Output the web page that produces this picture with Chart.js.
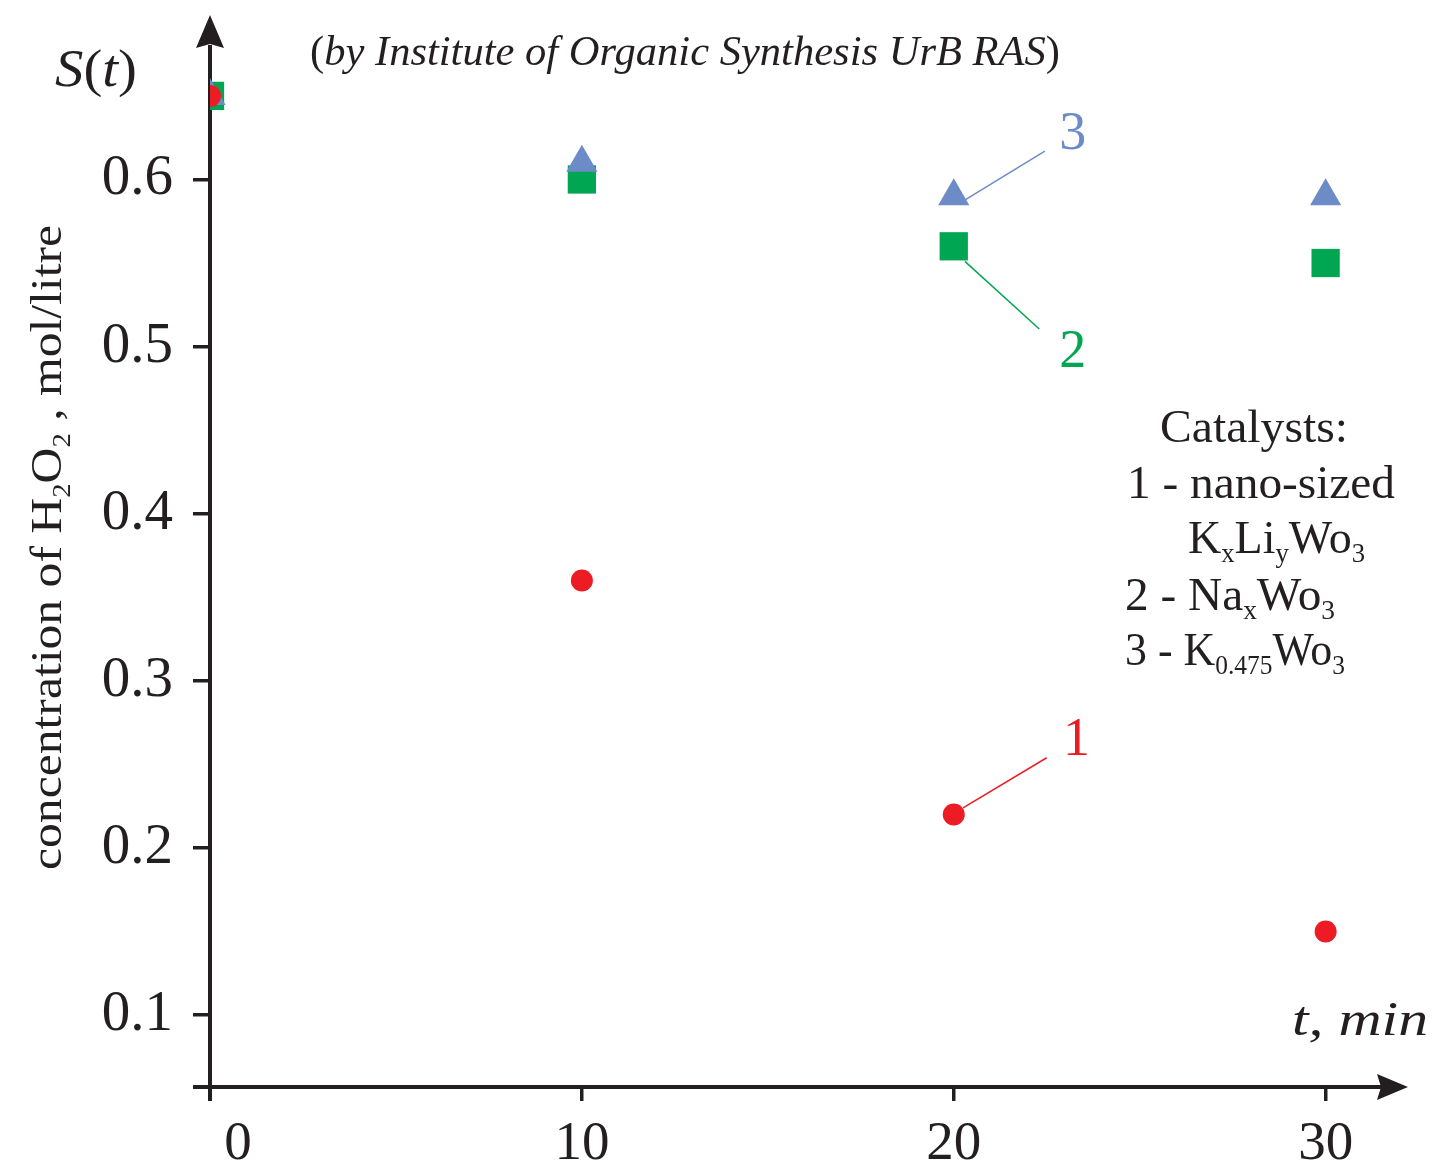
<!DOCTYPE html>
<html>
<head>
<meta charset="utf-8">
<script src="https://cdn.jsdelivr.net/npm/chart.js@4.4.1/dist/chart.umd.min.js"></script>
<style>
html, body { margin: 0; padding: 0; background: #fff; }
canvas { display: block; }
</style>
</head>
<body>
<canvas id="chart" width="1432" height="1168"></canvas>
<script>
// time, min
var times = [0, 10, 20, 30];
// H2O2 concentration, mol/litre, per catalyst
var nanoKLiWO3 = [0.65, 0.36, 0.22, 0.15];
var naWO3 = [0.65, 0.60, 0.56, 0.55];
var k0475WO3 = [0.65, 0.61, 0.59, 0.59];
var seriesNames = ['1', '2', '3'];
var xTicks = [0, 10, 20, 30];
var yTicks = [0.1, 0.2, 0.3, 0.4, 0.5, 0.6];

var INK = '#231F20';
var RED = '#ED1C24';
var GREEN = '#00A651';
var BLUE = '#6C8BC7';
var SERIF = '"Liberation Serif", "Times New Roman", serif';

function pts(ys) {
	return times.map(function(t, i) { return { x: t, y: ys[i] }; });
}

// leader lines + number labels, in data units
var callouts = [
	{ name: seriesNames[2], color: BLUE,  from: [20.25, 0.587], to: [22.45, 0.617], at: [23.2, 0.618] },
	{ name: seriesNames[1], color: GREEN, from: [20.3, 0.551],  to: [22.3, 0.5105], at: [23.2, 0.488] },
	{ name: seriesNames[0], color: RED,   from: [20.25, 0.224], to: [22.5, 0.254],  at: [23.3, 0.2557] }
];

function drawRuns(ctx, parts, x, y, size, measureOnly) {
	var cx = x;
	parts.forEach(function(p) {
		var s = p.sub ? size * 0.58 : size;
		ctx.font = (p.i ? 'italic ' : '') + s + 'px ' + SERIF;
		if (!measureOnly) ctx.fillText(p.t, cx, y + (p.sub ? size * 0.2 : 0));
		cx += ctx.measureText(p.t).width;
	});
	return cx - x;
}

// draw runs stretched to the width they take in the original figure
function fitRuns(ctx, parts, x, y, size, width) {
	var w = drawRuns(ctx, parts, 0, 0, size, true);
	ctx.save();
	ctx.translate(x, y);
	ctx.scale(width / w, 1);
	drawRuns(ctx, parts, 0, 0, size);
	ctx.restore();
}

var decorations = {
	id: 'decorations',
	beforeDatasetsDraw: function(chart) {
		var ctx = chart.ctx;
		var a = chart.chartArea;
		var x0 = chart.scales.x.getPixelForValue(0);
		var yb = a.bottom;
		ctx.save();
		ctx.strokeStyle = INK;
		ctx.fillStyle = INK;
		ctx.lineWidth = 4;
		// y axis
		ctx.beginPath();
		ctx.moveTo(x0, yb + 14);
		ctx.lineTo(x0, a.top + 25);
		ctx.stroke();
		ctx.beginPath();
		ctx.moveTo(x0, a.top - 5);
		ctx.lineTo(x0 + 14, a.top + 28);
		ctx.lineTo(x0, a.top + 24);
		ctx.lineTo(x0 - 14, a.top + 28);
		ctx.closePath();
		ctx.fill();
		// x axis
		ctx.beginPath();
		ctx.moveTo(x0 - 17, yb);
		ctx.lineTo(a.right - 15, yb);
		ctx.stroke();
		ctx.beginPath();
		ctx.moveTo(a.right + 8, yb);
		ctx.lineTo(a.right - 23, yb - 13);
		ctx.lineTo(a.right - 19, yb);
		ctx.lineTo(a.right - 23, yb + 13);
		ctx.closePath();
		ctx.fill();
		ctx.restore();
	},
	afterDraw: function(chart) {
		var ctx = chart.ctx;
		var xs = chart.scales.x, ys = chart.scales.y;
		ctx.save();
		ctx.textBaseline = 'alphabetic';

		// x tick labels
		ctx.fillStyle = INK;
		ctx.font = '55px ' + SERIF;
		ctx.textAlign = 'center';
		xTicks.forEach(function(v, i) {
			ctx.fillText(String(v), xs.getPixelForValue(v) + (i === 0 ? 28 : 0), 1159);
		});

		// callouts
		callouts.forEach(function(c) {
			ctx.strokeStyle = c.color;
			ctx.lineWidth = 1.5;
			ctx.beginPath();
			ctx.moveTo(xs.getPixelForValue(c.from[0]), ys.getPixelForValue(c.from[1]));
			ctx.lineTo(xs.getPixelForValue(c.to[0]), ys.getPixelForValue(c.to[1]));
			ctx.stroke();
			ctx.fillStyle = c.color;
			ctx.font = '54px ' + SERIF;
			ctx.textAlign = 'center';
			ctx.fillText(c.name, xs.getPixelForValue(c.at[0]), ys.getPixelForValue(c.at[1]));
		});

		ctx.textAlign = 'left';
		ctx.fillStyle = INK;

		// S(t)
		fitRuns(ctx, [{ t: 'S', i: true }, { t: '(' }, { t: 't', i: true }, { t: ')' }], 55, 86, 53, 82);
		// credit line
		fitRuns(ctx, [{ t: '(' }, { t: 'by Institute of Organic Synthesis UrB RAS', i: true }, { t: ')' }], 310, 65, 43, 750);
		// x axis title
		fitRuns(ctx, [{ t: 't, min', i: true }], 1292, 1035, 48, 136);

		// catalysts legend
		var L = 47;
		fitRuns(ctx, [{ t: 'Catalysts:' }], 1160, 442, L, 188);
		fitRuns(ctx, [{ t: '1 - nano-sized' }], 1127, 498, L, 268);
		fitRuns(ctx, [{ t: 'K' }, { t: 'x', sub: true }, { t: 'Li' }, { t: 'y', sub: true }, { t: 'Wo' }, { t: '3', sub: true }], 1188, 553, L, 177);
		fitRuns(ctx, [{ t: '2 - Na' }, { t: 'x', sub: true }, { t: 'Wo' }, { t: '3', sub: true }], 1125, 610, L, 210);
		fitRuns(ctx, [{ t: '3 - K' }, { t: '0.475', sub: true }, { t: 'Wo' }, { t: '3', sub: true }], 1125, 665, L, 220);

		// y axis title, rotated
		var title = [{ t: 'concentration of H' }, { t: '2', sub: true }, { t: 'O' }, { t: '2', sub: true }, { t: ' , mol/litre' }];
		ctx.translate(61, 548);
		ctx.rotate(-Math.PI / 2);
		fitRuns(ctx, title, -322, 0, 45, 645);
		ctx.restore();
	}
};

new Chart(document.getElementById('chart'), {
	type: 'scatter',
	data: {
		datasets: [
			{ label: seriesNames[0], data: pts(nanoKLiWO3), pointStyle: 'circle', pointRadius: 11, backgroundColor: RED, borderWidth: 0 },
			{ label: seriesNames[2], data: pts(k0475WO3), pointStyle: 'triangle', pointRadius: 18, backgroundColor: BLUE, borderWidth: 0 },
			{ label: seriesNames[1], data: pts(naWO3), pointStyle: 'rect', pointRadius: 20, backgroundColor: GREEN, borderWidth: 0 }
		]
	},
	options: {
		responsive: false,
		animation: false,
		layout: { padding: { top: 17, right: 32, left: 0, bottom: 0 } },
		plugins: { legend: { display: false }, tooltip: { enabled: false } },
		scales: {
			x: {
				type: 'linear',
				min: 0,
				max: 32,
				afterBuildTicks: function(s) { s.ticks = xTicks.map(function(v) { return { value: v }; }); },
				afterFit: function(s) { s.height = 81; s.paddingLeft = 0; s.paddingRight = 0; },
				border: { display: false },
				grid: { drawOnChartArea: false, drawTicks: true, tickLength: 14, color: INK, lineWidth: 3.5 },
				ticks: { display: false }
			},
			y: {
				type: 'linear',
				min: 0.057,
				max: 0.6954,
				afterBuildTicks: function(s) { s.ticks = yTicks.map(function(v) { return { value: v }; }); },
				afterFit: function(s) { s.width = 210; s.paddingTop = 0; s.paddingBottom = 0; },
				border: { display: false },
				grid: { drawOnChartArea: false, drawTicks: true, tickLength: 17, color: INK, lineWidth: 3.5 },
				ticks: {
					color: INK,
					padding: 20,
					font: { family: SERIF, size: 57 },
					callback: function(v) { return v.toFixed(1); }
				}
			}
		}
	},
	plugins: [decorations]
});
</script>
</body>
</html>
